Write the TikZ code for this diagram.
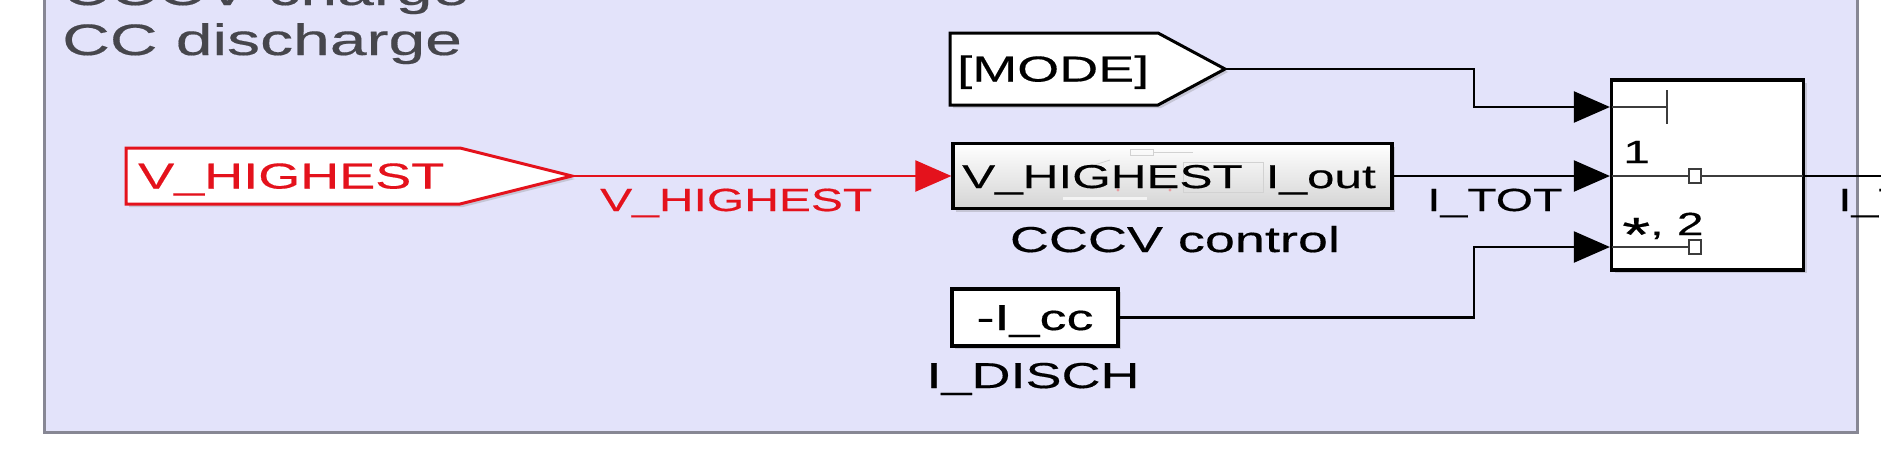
\documentclass[tikz,border=0pt]{standalone}
\usepackage{fontspec}
\setmainfont{Liberation Sans}[FakeStretch=1.5,FakeBold=0.4]
\usetikzlibrary{arrows.meta,shadows}
\definecolor{areabg}{RGB}{227,227,250}
\definecolor{areaedge}{RGB}{135,135,148}
\definecolor{sigred}{RGB}{228,18,28}
\definecolor{annot}{RGB}{70,70,76}
\definecolor{portgray}{RGB}{60,60,60}
\begin{document}
\begin{tikzpicture}[x=1pt,y=-1pt,
  bfont/.style={font=\fontsize{36}{40}\selectfont},
  pfont/.style={font=\fontsize{33}{38}\selectfont},
  lfont/.style={font=\fontsize{32}{36}\selectfont},
  afont/.style={font=\fontsize{44}{50}\selectfont, text=annot},
  shad/.style={drop shadow={shadow xshift=3pt,shadow yshift=-3pt,opacity=0.3}},
  blk/.style={draw=black, line width=3.2pt, fill=white, inner sep=0pt, shad},
  tagshape/.style={line width=3pt, fill=white, line join=miter, shad},
  txt/.style={inner sep=0pt, anchor=base west},
  txtc/.style={inner sep=0pt, anchor=base},
  sig/.style={line width=2.2pt, draw=black, -{Triangle[length=36pt,width=31pt]}},
  redsig/.style={line width=2.2pt, draw=sigred, -{Triangle[length=36pt,width=31pt]}},
  plainsig/.style={line width=2.2pt, draw=black},
  inner/.style={line width=1.8pt, draw=portgray},
  preview/.style={line width=0.8pt, draw=gray!35},
]
\useasboundingbox (0,0) rectangle (1881,464);
\fill[white] (0,0) rectangle (1881,464);

% area annotation
\draw[areaedge, line width=3pt, fill=areabg] (44,-60) rectangle (1857,432);
\node[txt, afont] (ann1) at (62,5) {CCCV charge};
\node[txt, afont] (ann2) at (62,55) {CC discharge};

% V_HIGHEST goto tag (red)
\coordinate (vhTip) at (572,176);
\draw[tagshape, draw=sigred] (126,148) -- (460,148) -- (vhTip) -- (460,204) -- (126,204) -- cycle;
\node[txt, bfont, text=sigred] (vhtxt) at (138,188.5) {V\_HIGHEST};

% [MODE] from tag
\coordinate (modeTip) at (1225,69);
\draw[tagshape, draw=black] (950,33) -- (1158,33) -- (modeTip) -- (1158,105) -- (950,105) -- cycle;
\node[txt, bfont] (modetxt) at (957,81.5) {[MODE]};

% CCCV control subsystem
\node[blk, minimum width=439pt, minimum height=65pt, top color=white, bottom color={rgb,255:red,212;green,212;blue,212}] (cccv) at (1172.5,176) {};
\draw[preview] (1130,149) rectangle (1153,155);
\draw[preview] (1153,152) -- (1193,152);
\draw[preview] (1183,162) rectangle (1263,192);
\draw[preview] (1085,168) -- (1110,160);
\draw[line width=3pt, draw=white, opacity=0.7] (1063,198) -- (1147,198);
\fill[sigred!60, opacity=0.6] (1118,190) circle (1.6);
\fill[sigred!60, opacity=0.6] (1170,190) circle (1.6);
\node[txt, pfont] (cin) at (962,188) {V\_HIGHEST};
\node[inner sep=0pt, anchor=base east, pfont] (cout) at (1376,188) {I\_out};
\node[txtc, bfont] (cname) at (1175,252) {CCCV control};

% constant -I_cc
\node[blk, minimum width=166pt, minimum height=57pt] (icc) at (1035,317.5) {};
\node[txtc, bfont] (icctxt) at (1035,330) {-I\_cc};
\node[txtc, bfont] (iccname) at (1033,388) {I\_DISCH};

% multiport switch
\node[blk, minimum width=192pt, minimum height=190pt] (sw) at (1707.5,175) {};
\coordinate (sw1) at (sw.west |- 0,107);
\coordinate (sw2) at (sw.west |- 0,176);
\coordinate (sw3) at (sw.west |- 0,247);
\draw[inner] (1612,107) -- (1667,107);
\draw[inner] (1667,90) -- (1667,124);
\node[txt, lfont] (sw1lab) at (1623,163) {1};
\draw[inner] (1612,176) -- (1803,176);
\draw[inner, fill=white] (1689,169) rectangle (1701,183);
\node[txt, lfont] (sw2lab) at (1622,235) {\raisebox{-0.5em}{\scalebox{1.5}{*}}, 2};
\draw[inner] (1612,247) -- (1689,247);
\draw[inner, fill=white] (1689,240) rectangle (1701,254);

% connectors
\draw[redsig] (vhTip) -- (cccv.west);
\node[txt, lfont, text=sigred] (vhlab) at (600,211) {V\_HIGHEST};
\draw[sig] (modeTip) -- (1474,69) |- (sw1);
\draw[sig] (cccv.east) -- (sw2);
\node[txt, lfont] (itotlab) at (1427,211) {I\_TOT};
\draw[sig] (icc.east) -- (1474,317.5) |- (sw3);
\coordinate (outEnd) at (1900,176);
\draw[plainsig] (sw.east |- 0,176) -- (outEnd);
\node[txt, lfont] (outlab) at (1838,211) {I\_TOT};
\end{tikzpicture}
\end{document}
